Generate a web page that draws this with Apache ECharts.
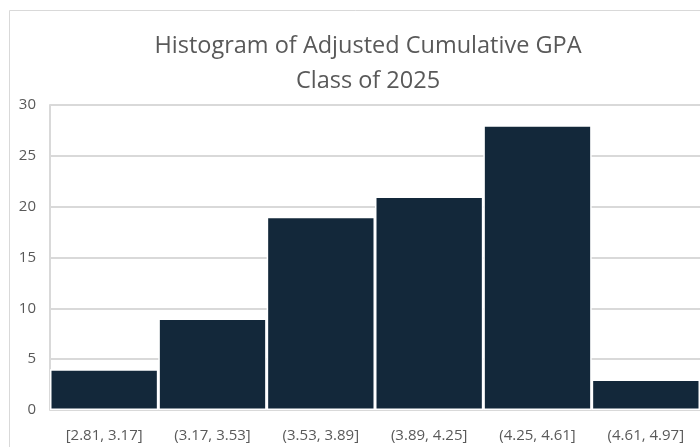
<!DOCTYPE html>
<html lang="en">
<head>
    <meta charset="UTF-8">
    <title>Histogram of Adjusted Cumulative GPA</title>
    <script src="https://cdn.jsdelivr.net/npm/echarts@6/dist/echarts.min.js"></script>
    <style>
        html, body { margin: 0; padding: 0; background: #fff; }
        #chart { width: 700px; height: 447px; }
    </style>
</head>
<body>
    <div id="chart"></div>
    <script>
        // bins and counts
        const bins = ['[2.81, 3.17]', '(3.17, 3.53]', '(3.53, 3.89]', '(3.89, 4.25]', '(4.25, 4.61]', '(4.61, 4.97]'];
        const counts = [4, 9, 19, 21, 28, 3];
        const yTicks = { min: 0, max: 30, interval: 5 };

        const textColor = '#595959';
        const font = '"Open Sans", "Noto Sans", sans-serif';

        const chart = echarts.init(document.getElementById('chart'));
        chart.setOption({
            animation: false,
            title: {
                text: 'Histogram of Adjusted Cumulative GPA\nClass of 2025',
                left: 363,
                top: 24,
                textAlign: 'center',
                textStyle: {
                    fontFamily: font,
                    fontSize: 23.5,
                    fontWeight: 'normal',
                    color: textColor,
                    lineHeight: 35
                }
            },
            graphic: [{
                type: 'rect',
                shape: { x: 9.5, y: 10.5, width: 720, height: 460 },
                style: { fill: 'none', stroke: '#d9d9d9', lineWidth: 1 },
                silent: true
            }],
            grid: { left: 50, right: 0, top: 105, bottom: 37 },
            xAxis: {
                type: 'category',
                data: bins,
                axisLine: { show: false },
                axisTick: { show: false },
                axisLabel: {
                    color: textColor,
                    fontFamily: font,
                    fontSize: 15,
                    margin: 18,
                    interval: 0
                }
            },
            yAxis: {
                type: 'value',
                min: yTicks.min,
                max: yTicks.max,
                interval: yTicks.interval,
                axisLine: { show: true, lineStyle: { color: '#d9d9d9', width: 2 } },
                axisTick: { show: false },
                splitLine: { lineStyle: { color: '#d9d9d9', width: 2 } },
                axisLabel: {
                    color: textColor,
                    fontFamily: font,
                    fontSize: 15,
                    margin: 14
                }
            },
            series: [{
                type: 'bar',
                data: counts,
                barWidth: '100%',
                barCategoryGap: 0,
                itemStyle: {
                    color: '#13283a',
                    borderColor: '#ffffff',
                    borderWidth: 1.5
                }
            }]
        });
    </script>
</body>
</html>
